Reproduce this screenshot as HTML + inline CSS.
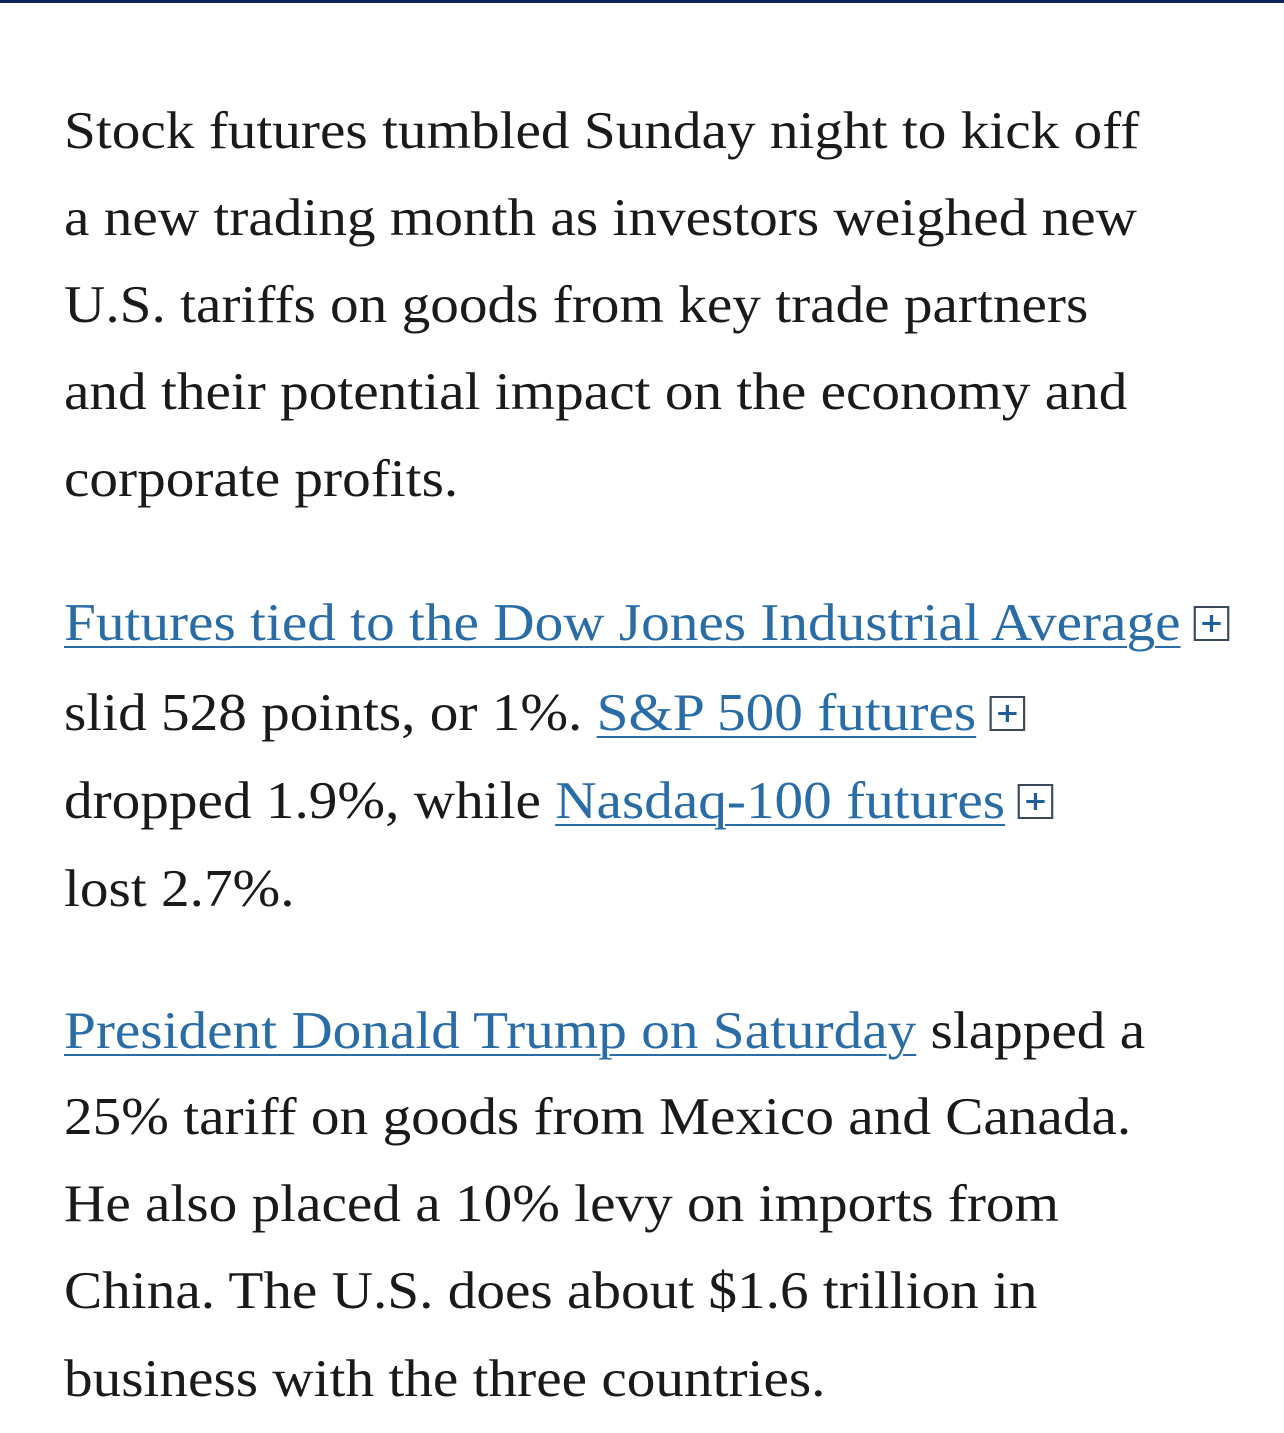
<!DOCTYPE html>
<html><head><meta charset="utf-8"><style>
html,body{margin:0;padding:0;background:#fff;}
body{width:1284px;height:1433px;position:relative;overflow:hidden;font-family:"Liberation Serif",serif;color:#1a1a1a;}
.bar{position:absolute;left:0;top:0;width:1284px;height:3px;background:#0c2557;}
.l{position:absolute;left:64px;height:88px;line-height:88px;font-size:53px;white-space:nowrap;transform:scaleX(1.08);transform-origin:0 50%;}
a{color:#2a6ca6;text-decoration:underline;text-decoration-thickness:2px;text-underline-offset:6px;}
.p{display:inline-block;width:29px;height:31px;border:2px solid #3a4a5a;vertical-align:middle;position:relative;margin-left:12px;top:-4px;}
.p:before{content:"";position:absolute;left:6px;top:14px;width:17px;height:3px;background:#1f5f96;}
.p:after{content:"";position:absolute;left:13px;top:7px;width:3px;height:17px;background:#1f5f96;}
</style></head><body>
<div class="bar"></div>
<div class="l" style="top:87px">Stock futures tumbled Sunday night to kick off</div>
<div class="l" style="top:174px">a new trading month as investors weighed new</div>
<div class="l" style="top:261px">U.S. tariffs on goods from key trade partners</div>
<div class="l" style="top:348px">and their potential impact on the economy and</div>
<div class="l" style="top:435px">corporate profits.</div>
<div class="l" style="top:579px"><a>Futures tied to the Dow Jones Industrial Average</a><span class="p"></span></div>
<div class="l" style="top:669px">slid 528 points, or 1%. <a>S&amp;P 500 futures</a><span class="p"></span></div>
<div class="l" style="top:757px">dropped 1.9%, while <a>Nasdaq-100 futures</a><span class="p"></span></div>
<div class="l" style="top:845px">lost 2.7%.</div>
<div class="l" style="top:987px"><a>President Donald Trump on Saturday</a> slapped a</div>
<div class="l" style="top:1073px">25% tariff on goods from Mexico and Canada.</div>
<div class="l" style="top:1160px">He also placed a 10% levy on imports from</div>
<div class="l" style="top:1247px">China. The U.S. does about $1.6 trillion in</div>
<div class="l" style="top:1335px">business with the three countries.</div>
</body></html>
